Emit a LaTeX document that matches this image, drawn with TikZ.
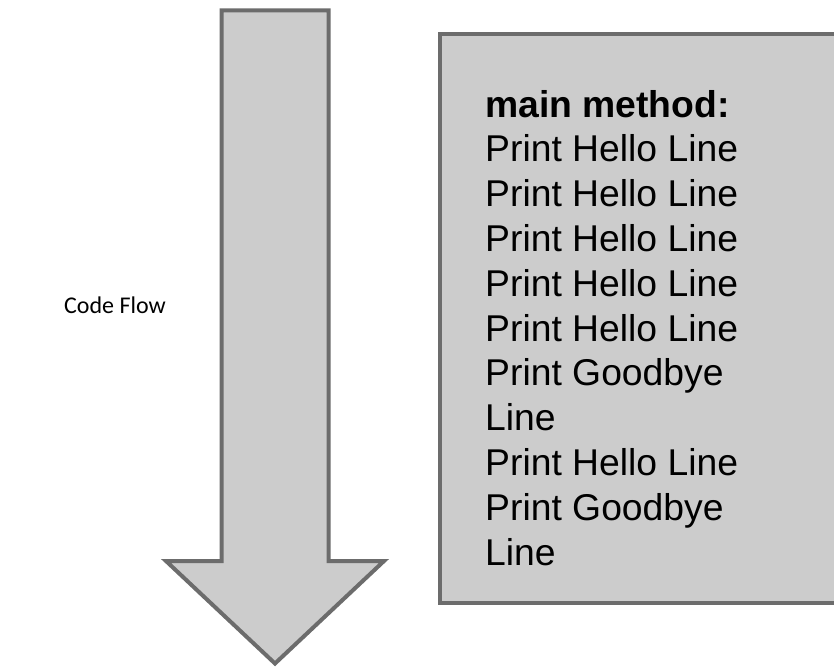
\documentclass[tikz,border=0pt]{standalone}
\usepackage{fontspec}
\setmainfont{Liberation Sans}
\newfontfamily\calibri{Carlito}
\definecolor{edgegray}{RGB}{108,108,108}
\definecolor{fillgray}{RGB}{204,204,204}
\begin{document}
\begin{tikzpicture}[x=1pt,y=-1pt]
\tikzset{shapebox/.style={draw=edgegray,fill=fillgray,line width=4pt,line join=miter}}
\useasboundingbox (0,0) rectangle (834,668);
\begin{scope}
\clip (0,0) rectangle (834,668);
% arrow
\draw[shapebox] (221.5,10.5) -- (328.5,10.5) -- (328.5,561) -- (384,561) -- (275,663.5) -- (166,561) -- (221.5,561) -- cycle;
% box
\draw[shapebox] (440,34.5) rectangle (850,602.5);
\end{scope}
\node[anchor=base east,inner sep=0pt,font=\calibri\fontsize{24}{28}\selectfont] (flow) at (166,313) {Code Flow};
\node[anchor=base west,inner sep=0pt,align=left,font=\fontsize{37.3}{44.8}\selectfont] (code) at (485,565) {\textbf{main method:}\\Print Hello Line\\Print Hello Line\\Print Hello Line\\Print Hello Line\\Print Hello Line\\Print Goodbye\\Line\\Print Hello Line\\Print Goodbye\\Line};
\end{tikzpicture}
\end{document}
